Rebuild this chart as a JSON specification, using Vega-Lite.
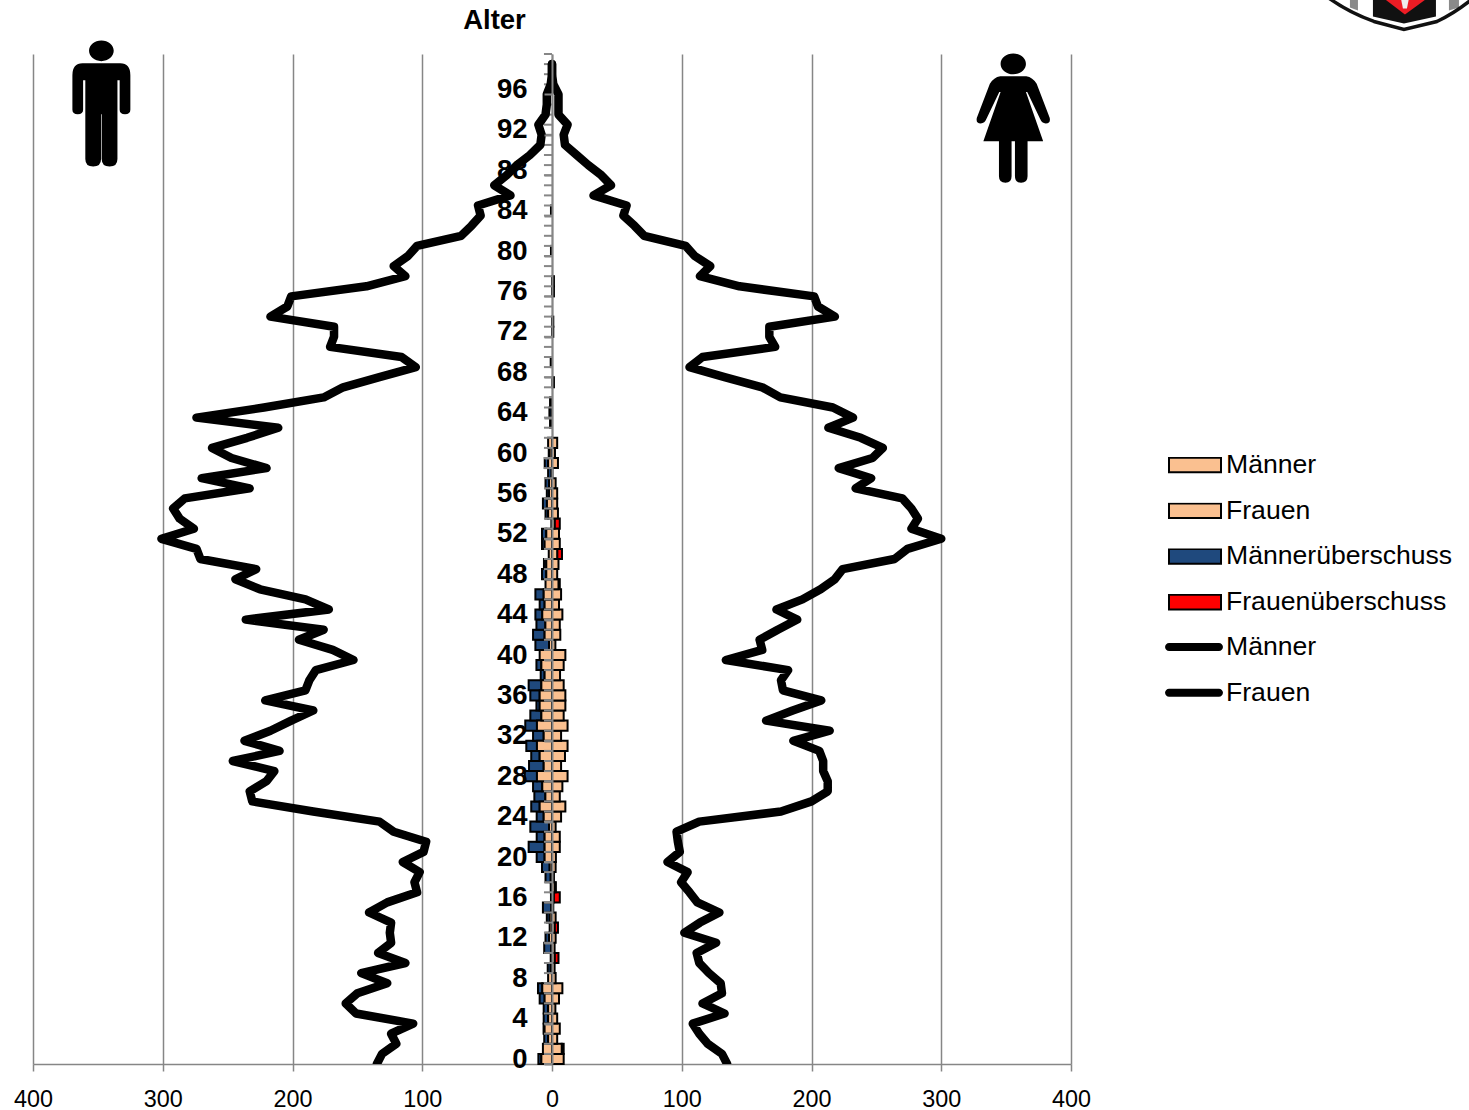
{"$schema":"https://vega.github.io/schema/vega-lite/v6.json","width":1038,"height":1010,"autosize":{"type":"none"},"padding":{"left":33,"top":54,"right":398,"bottom":46},"background":"white","config":{"view":{"stroke":null},"font":"Liberation Sans"},
"datasets":{
"ticks":[{"age":0},{"age":1},{"age":2},{"age":3},{"age":4},{"age":5},{"age":6},{"age":7},{"age":8},{"age":9},{"age":10},{"age":11},{"age":12},{"age":13},{"age":14},{"age":15},{"age":16},{"age":17},{"age":18},{"age":19},{"age":20},{"age":21},{"age":22},{"age":23},{"age":24},{"age":25},{"age":26},{"age":27},{"age":28},{"age":29},{"age":30},{"age":31},{"age":32},{"age":33},{"age":34},{"age":35},{"age":36},{"age":37},{"age":38},{"age":39},{"age":40},{"age":41},{"age":42},{"age":43},{"age":44},{"age":45},{"age":46},{"age":47},{"age":48},{"age":49},{"age":50},{"age":51},{"age":52},{"age":53},{"age":54},{"age":55},{"age":56},{"age":57},{"age":58},{"age":59},{"age":60},{"age":61},{"age":62},{"age":63},{"age":64},{"age":65},{"age":66},{"age":67},{"age":68},{"age":69},{"age":70},{"age":71},{"age":72},{"age":73},{"age":74},{"age":75},{"age":76},{"age":77},{"age":78},{"age":79},{"age":80},{"age":81},{"age":82},{"age":83},{"age":84},{"age":85},{"age":86},{"age":87},{"age":88},{"age":89},{"age":90},{"age":91},{"age":92},{"age":93},{"age":94},{"age":95},{"age":96},{"age":97},{"age":98},{"age":99},{"age":100}],
"bars":[
{"serie":"Männerüberschuss","age":0,"top":1,"low":-10.5,"high":-8.2},{"serie":"Frauenüberschuss","age":1,"top":2,"low":7.5,"high":9},{"serie":"Männerüberschuss","age":2,"top":3,"low":-6,"high":-3},{"serie":"Männerüberschuss","age":3,"top":4,"low":-6.5,"high":-5.7},{"serie":"Männerüberschuss","age":4,"top":5,"low":-6.4,"high":-3},{"serie":"Männerüberschuss","age":5,"top":6,"low":-6.4,"high":-3},{"serie":"Männerüberschuss","age":6,"top":7,"low":-9.5,"high":-5.7},{"serie":"Männerüberschuss","age":7,"top":8,"low":-10.8,"high":-7.5},{"serie":"Männerüberschuss","age":9,"top":10,"low":-3.3,"high":-1},{"serie":"Frauenüberschuss","age":10,"top":11,"low":2,"high":5},{"serie":"Männerüberschuss","age":11,"top":12,"low":-6,"high":-0.5},{"serie":"Männerüberschuss","age":12,"top":13,"low":-5,"high":-2.3},{"serie":"Frauenüberschuss","age":13,"top":14,"low":2,"high":4.6},{"serie":"Männerüberschuss","age":14,"top":15,"low":-4,"high":-1.8},{"serie":"Männerüberschuss","age":15,"top":16,"low":-7,"high":-0.5},{"serie":"Frauenüberschuss","age":16,"top":17,"low":1.3,"high":6},{"serie":"Frauenüberschuss","age":17,"top":18,"low":2,"high":3},{"serie":"Männerüberschuss","age":18,"top":19,"low":-5,"high":-1},{"serie":"Männerüberschuss","age":19,"top":20,"low":-7.7,"high":-1.8},{"serie":"Männerüberschuss","age":20,"top":21,"low":-11.8,"high":-5.7},{"serie":"Männerüberschuss","age":21,"top":22,"low":-18,"high":-5.7},{"serie":"Männerüberschuss","age":22,"top":23,"low":-11.8,"high":-5.7},{"serie":"Männerüberschuss","age":23,"top":24,"low":-16.7,"high":-2.3},{"serie":"Männerüberschuss","age":24,"top":25,"low":-11.8,"high":-6.4},{"serie":"Männerüberschuss","age":25,"top":26,"low":-16,"high":-9.5},{"serie":"Männerüberschuss","age":26,"top":27,"low":-13.6,"high":-5.1},{"serie":"Männerüberschuss","age":27,"top":28,"low":-14.6,"high":-7.5},{"serie":"Männerüberschuss","age":28,"top":29,"low":-21,"high":-11.6},{"serie":"Männerüberschuss","age":29,"top":30,"low":-17.7,"high":-6.4},{"serie":"Männerüberschuss","age":30,"top":31,"low":-16,"high":-9.5},{"serie":"Männerüberschuss","age":31,"top":32,"low":-19.8,"high":-11.6},{"serie":"Männerüberschuss","age":32,"top":33,"low":-14.6,"high":-6.4},{"serie":"Männerüberschuss","age":33,"top":34,"low":-20.6,"high":-11.6},{"serie":"Männerüberschuss","age":34,"top":35,"low":-16.7,"high":-8.2},{"serie":"Männerüberschuss","age":35,"top":36,"low":-12,"high":-9.5},{"serie":"Männerüberschuss","age":36,"top":37,"low":-16.7,"high":-9.5},{"serie":"Männerüberschuss","age":37,"top":38,"low":-18,"high":-8.2},{"serie":"Männerüberschuss","age":38,"top":39,"low":-8.7,"high":-5.7},{"serie":"Männerüberschuss","age":39,"top":40,"low":-12,"high":-8.2},{"serie":"Männerüberschuss","age":41,"top":42,"low":-12.8,"high":-2.3},{"serie":"Männerüberschuss","age":42,"top":43,"low":-14.6,"high":-5.7},{"serie":"Männerüberschuss","age":43,"top":44,"low":-12,"high":-5.1},{"serie":"Männerüberschuss","age":44,"top":45,"low":-12.8,"high":-7.5},{"serie":"Männerüberschuss","age":45,"top":46,"low":-9.5,"high":-5.7},{"serie":"Männerüberschuss","age":46,"top":47,"low":-12.8,"high":-6.4},{"serie":"Frauenüberschuss","age":47,"top":48,"low":5,"high":6},{"serie":"Männerüberschuss","age":48,"top":49,"low":-7.7,"high":-4.4},{"serie":"Männerüberschuss","age":49,"top":50,"low":-6.2,"high":-4.4},{"serie":"Frauenüberschuss","age":50,"top":51,"low":4,"high":7.7},{"serie":"Männerüberschuss","age":51,"top":52,"low":-7.7,"high":-5.7},{"serie":"Männerüberschuss","age":52,"top":53,"low":-7.7,"high":-4.4},{"serie":"Frauenüberschuss","age":53,"top":54,"low":2,"high":6},{"serie":"Männerüberschuss","age":54,"top":55,"low":-5,"high":-3},{"serie":"Männerüberschuss","age":55,"top":56,"low":-7,"high":-3.9},{"serie":"Männerüberschuss","age":56,"top":57,"low":-4,"high":-2.3},{"serie":"Männerüberschuss","age":57,"top":58,"low":-5,"high":-2.3},{"serie":"Männerüberschuss","age":58,"top":59,"low":-3,"high":-0.3},{"serie":"Männerüberschuss","age":59,"top":60,"low":-5.6,"high":-3},{"serie":"Männerüberschuss","age":60,"top":61,"low":-2.5,"high":-1.8},{"serie":"Männerüberschuss","age":63,"top":64,"low":-1.5,"high":-0.5},{"serie":"Männerüberschuss","age":64,"top":65,"low":-2,"high":-0.3},{"serie":"Männerüberschuss","age":65,"top":66,"low":-1.5,"high":-0.3},{"serie":"Frauenüberschuss","age":67,"top":68,"low":0.3,"high":1.5},{"serie":"Männerüberschuss","age":69,"top":70,"low":-1,"high":0},{"serie":"Frauenüberschuss","age":72,"top":73,"low":0,"high":1},{"serie":"Frauenüberschuss","age":73,"top":74,"low":0,"high":1},{"serie":"Frauenüberschuss","age":76,"top":77,"low":0,"high":1.5},{"serie":"Frauenüberschuss","age":77,"top":78,"low":0,"high":1.5},{"serie":"Männerüberschuss","age":80,"top":81,"low":-0.8,"high":0},{"serie":"Männerüberschuss","age":84,"top":85,"low":-0.8,"high":0},
{"serie":"Männer","age":0,"top":1,"low":-8.2,"high":0},{"serie":"Frauen","age":0,"top":1,"low":0,"high":9},{"serie":"Männer","age":1,"top":2,"low":-7,"high":0},{"serie":"Frauen","age":1,"top":2,"low":0,"high":7.5},{"serie":"Männer","age":2,"top":3,"low":-3,"high":0},{"serie":"Frauen","age":2,"top":3,"low":0,"high":4},{"serie":"Männer","age":3,"top":4,"low":-5.7,"high":0},{"serie":"Frauen","age":3,"top":4,"low":0,"high":6},{"serie":"Männer","age":4,"top":5,"low":-3,"high":0},{"serie":"Frauen","age":4,"top":5,"low":0,"high":4},{"serie":"Männer","age":5,"top":6,"low":-3,"high":0},{"serie":"Frauen","age":5,"top":6,"low":0,"high":2.6},{"serie":"Männer","age":6,"top":7,"low":-5.7,"high":0},{"serie":"Frauen","age":6,"top":7,"low":0,"high":5.4},{"serie":"Männer","age":7,"top":8,"low":-7.5,"high":0},{"serie":"Frauen","age":7,"top":8,"low":0,"high":8},{"serie":"Männer","age":8,"top":9,"low":-3,"high":0},{"serie":"Frauen","age":8,"top":9,"low":0,"high":2.8},{"serie":"Männer","age":9,"top":10,"low":-1,"high":0},{"serie":"Frauen","age":9,"top":10,"low":0,"high":2},{"serie":"Männer","age":10,"top":11,"low":-1,"high":0},{"serie":"Frauen","age":10,"top":11,"low":0,"high":2},{"serie":"Männer","age":11,"top":12,"low":-0.5,"high":0},{"serie":"Frauen","age":11,"top":12,"low":0,"high":2},{"serie":"Männer","age":12,"top":13,"low":-2.3,"high":0},{"serie":"Frauen","age":12,"top":13,"low":0,"high":2.8},{"serie":"Männer","age":13,"top":14,"low":-1.8,"high":0},{"serie":"Frauen","age":13,"top":14,"low":0,"high":2},{"serie":"Männer","age":14,"top":15,"low":-1.8,"high":0},{"serie":"Frauen","age":14,"top":15,"low":0,"high":2.8},{"serie":"Männer","age":15,"top":16,"low":-0.5,"high":0},{"serie":"Frauen","age":15,"top":16,"low":0,"high":1},{"serie":"Männer","age":16,"top":17,"low":-0.8,"high":0},{"serie":"Frauen","age":16,"top":17,"low":0,"high":1.3},{"serie":"Männer","age":17,"top":18,"low":-1,"high":0},{"serie":"Frauen","age":17,"top":18,"low":0,"high":2},{"serie":"Männer","age":18,"top":19,"low":-1,"high":0},{"serie":"Frauen","age":18,"top":19,"low":0,"high":1.5},{"serie":"Männer","age":19,"top":20,"low":-1.8,"high":0},{"serie":"Frauen","age":19,"top":20,"low":0,"high":2.8},{"serie":"Männer","age":20,"top":21,"low":-5.7,"high":0},{"serie":"Frauen","age":20,"top":21,"low":0,"high":3},{"serie":"Männer","age":21,"top":22,"low":-5.7,"high":0},{"serie":"Frauen","age":21,"top":22,"low":0,"high":6},{"serie":"Männer","age":22,"top":23,"low":-5.7,"high":0},{"serie":"Frauen","age":22,"top":23,"low":0,"high":6},{"serie":"Männer","age":23,"top":24,"low":-2.3,"high":0},{"serie":"Frauen","age":23,"top":24,"low":0,"high":2.8},{"serie":"Männer","age":24,"top":25,"low":-6.4,"high":0},{"serie":"Frauen","age":24,"top":25,"low":0,"high":7},{"serie":"Männer","age":25,"top":26,"low":-9.5,"high":0},{"serie":"Frauen","age":25,"top":26,"low":0,"high":10.3},{"serie":"Männer","age":26,"top":27,"low":-5.1,"high":0},{"serie":"Frauen","age":26,"top":27,"low":0,"high":6},{"serie":"Männer","age":27,"top":28,"low":-7.5,"high":0},{"serie":"Frauen","age":27,"top":28,"low":0,"high":8},{"serie":"Männer","age":28,"top":29,"low":-11.6,"high":0},{"serie":"Frauen","age":28,"top":29,"low":0,"high":12},{"serie":"Männer","age":29,"top":30,"low":-6.4,"high":0},{"serie":"Frauen","age":29,"top":30,"low":0,"high":7},{"serie":"Männer","age":30,"top":31,"low":-9.5,"high":0},{"serie":"Frauen","age":30,"top":31,"low":0,"high":10},{"serie":"Männer","age":31,"top":32,"low":-11.6,"high":0},{"serie":"Frauen","age":31,"top":32,"low":0,"high":12},{"serie":"Männer","age":32,"top":33,"low":-6.4,"high":0},{"serie":"Frauen","age":32,"top":33,"low":0,"high":7},{"serie":"Männer","age":33,"top":34,"low":-11.6,"high":0},{"serie":"Frauen","age":33,"top":34,"low":0,"high":12},{"serie":"Männer","age":34,"top":35,"low":-8.2,"high":0},{"serie":"Frauen","age":34,"top":35,"low":0,"high":9},{"serie":"Männer","age":35,"top":36,"low":-9.5,"high":0},{"serie":"Frauen","age":35,"top":36,"low":0,"high":10.3},{"serie":"Männer","age":36,"top":37,"low":-9.5,"high":0},{"serie":"Frauen","age":36,"top":37,"low":0,"high":10.3},{"serie":"Männer","age":37,"top":38,"low":-8.2,"high":0},{"serie":"Frauen","age":37,"top":38,"low":0,"high":9},{"serie":"Männer","age":38,"top":39,"low":-5.7,"high":0},{"serie":"Frauen","age":38,"top":39,"low":0,"high":6.2},{"serie":"Männer","age":39,"top":40,"low":-8.2,"high":0},{"serie":"Frauen","age":39,"top":40,"low":0,"high":9},{"serie":"Männer","age":40,"top":41,"low":-9.5,"high":0},{"serie":"Frauen","age":40,"top":41,"low":0,"high":10.3},{"serie":"Männer","age":41,"top":42,"low":-2.3,"high":0},{"serie":"Frauen","age":41,"top":42,"low":0,"high":2.6},{"serie":"Männer","age":42,"top":43,"low":-5.7,"high":0},{"serie":"Frauen","age":42,"top":43,"low":0,"high":6.4},{"serie":"Männer","age":43,"top":44,"low":-5.1,"high":0},{"serie":"Frauen","age":43,"top":44,"low":0,"high":6},{"serie":"Männer","age":44,"top":45,"low":-7.5,"high":0},{"serie":"Frauen","age":44,"top":45,"low":0,"high":8},{"serie":"Männer","age":45,"top":46,"low":-5.7,"high":0},{"serie":"Frauen","age":45,"top":46,"low":0,"high":5.4},{"serie":"Männer","age":46,"top":47,"low":-6.4,"high":0},{"serie":"Frauen","age":46,"top":47,"low":0,"high":7},{"serie":"Männer","age":47,"top":48,"low":-5,"high":0},{"serie":"Frauen","age":47,"top":48,"low":0,"high":5},{"serie":"Männer","age":48,"top":49,"low":-4.4,"high":0},{"serie":"Frauen","age":48,"top":49,"low":0,"high":4},{"serie":"Männer","age":49,"top":50,"low":-4.4,"high":0},{"serie":"Frauen","age":49,"top":50,"low":0,"high":5},{"serie":"Männer","age":50,"top":51,"low":-2.5,"high":0},{"serie":"Frauen","age":50,"top":51,"low":0,"high":4},{"serie":"Männer","age":51,"top":52,"low":-5.7,"high":0},{"serie":"Frauen","age":51,"top":52,"low":0,"high":6},{"serie":"Männer","age":52,"top":53,"low":-4.4,"high":0},{"serie":"Frauen","age":52,"top":53,"low":0,"high":5.4},{"serie":"Männer","age":53,"top":54,"low":-0.5,"high":0},{"serie":"Frauen","age":53,"top":54,"low":0,"high":2},{"serie":"Männer","age":54,"top":55,"low":-3,"high":0},{"serie":"Frauen","age":54,"top":55,"low":0,"high":4.6},{"serie":"Männer","age":55,"top":56,"low":-3.9,"high":0},{"serie":"Frauen","age":55,"top":56,"low":0,"high":4},{"serie":"Männer","age":56,"top":57,"low":-2.3,"high":0},{"serie":"Frauen","age":56,"top":57,"low":0,"high":4},{"serie":"Männer","age":57,"top":58,"low":-2.3,"high":0},{"serie":"Frauen","age":57,"top":58,"low":0,"high":2.8},{"serie":"Männer","age":58,"top":59,"low":-0.3,"high":0},{"serie":"Frauen","age":58,"top":59,"low":0,"high":0.3},{"serie":"Männer","age":59,"top":60,"low":-3,"high":0},{"serie":"Frauen","age":59,"top":60,"low":0,"high":4.6},{"serie":"Männer","age":60,"top":61,"low":-1.8,"high":0},{"serie":"Frauen","age":60,"top":61,"low":0,"high":2.3},{"serie":"Männer","age":61,"top":62,"low":-3,"high":0},{"serie":"Frauen","age":61,"top":62,"low":0,"high":4}
],
"lines":[
{"serie":"Männer","age":0,"value":-135},{"serie":"Männer","age":1,"value":-131},{"serie":"Männer","age":2,"value":-120},{"serie":"Männer","age":3,"value":-124},{"serie":"Männer","age":4,"value":-107},{"serie":"Männer","age":5,"value":-151},{"serie":"Männer","age":6,"value":-159},{"serie":"Männer","age":7,"value":-150},{"serie":"Männer","age":8,"value":-127},{"serie":"Männer","age":9,"value":-147},{"serie":"Männer","age":10,"value":-113},{"serie":"Männer","age":11,"value":-134},{"serie":"Männer","age":12,"value":-124},{"serie":"Männer","age":13,"value":-125},{"serie":"Männer","age":14,"value":-124},{"serie":"Männer","age":15,"value":-141},{"serie":"Männer","age":16,"value":-127},{"serie":"Männer","age":17,"value":-104},{"serie":"Männer","age":18,"value":-106},{"serie":"Männer","age":19,"value":-102},{"serie":"Männer","age":20,"value":-115},{"serie":"Männer","age":21,"value":-99},{"serie":"Männer","age":22,"value":-97},{"serie":"Männer","age":23,"value":-122},{"serie":"Männer","age":24,"value":-133},{"serie":"Männer","age":25,"value":-184},{"serie":"Männer","age":26,"value":-231},{"serie":"Männer","age":27,"value":-233},{"serie":"Männer","age":28,"value":-220},{"serie":"Männer","age":29,"value":-214},{"serie":"Männer","age":30,"value":-246},{"serie":"Männer","age":31,"value":-210},{"serie":"Männer","age":32,"value":-237},{"serie":"Männer","age":33,"value":-217},{"serie":"Männer","age":34,"value":-201},{"serie":"Männer","age":35,"value":-184},{"serie":"Männer","age":36,"value":-221},{"serie":"Männer","age":37,"value":-190},{"serie":"Männer","age":38,"value":-187},{"serie":"Männer","age":39,"value":-182},{"serie":"Männer","age":40,"value":-153},{"serie":"Männer","age":41,"value":-169},{"serie":"Männer","age":42,"value":-195},{"serie":"Männer","age":43,"value":-176},{"serie":"Männer","age":44,"value":-236},{"serie":"Männer","age":45,"value":-172},{"serie":"Männer","age":46,"value":-190},{"serie":"Männer","age":47,"value":-225},{"serie":"Männer","age":48,"value":-244},{"serie":"Männer","age":49,"value":-228},{"serie":"Männer","age":50,"value":-271},{"serie":"Männer","age":51,"value":-274},{"serie":"Männer","age":52,"value":-301},{"serie":"Männer","age":53,"value":-276},{"serie":"Männer","age":54,"value":-287},{"serie":"Männer","age":55,"value":-292},{"serie":"Männer","age":56,"value":-283},{"serie":"Männer","age":57,"value":-233},{"serie":"Männer","age":58,"value":-270},{"serie":"Männer","age":59,"value":-220},{"serie":"Männer","age":60,"value":-247},{"serie":"Männer","age":61,"value":-262},{"serie":"Männer","age":62,"value":-235},{"serie":"Männer","age":63,"value":-211},{"serie":"Männer","age":64,"value":-274},{"serie":"Männer","age":65,"value":-222},{"serie":"Männer","age":66,"value":-176},{"serie":"Männer","age":67,"value":-161},{"serie":"Männer","age":68,"value":-133},{"serie":"Männer","age":69,"value":-105},{"serie":"Männer","age":70,"value":-116},{"serie":"Männer","age":71,"value":-171},{"serie":"Männer","age":72,"value":-168},{"serie":"Männer","age":73,"value":-168},{"serie":"Männer","age":74,"value":-217},{"serie":"Männer","age":75,"value":-204},{"serie":"Männer","age":76,"value":-201},{"serie":"Männer","age":77,"value":-143},{"serie":"Männer","age":78,"value":-113},{"serie":"Männer","age":79,"value":-122},{"serie":"Männer","age":80,"value":-111},{"serie":"Männer","age":81,"value":-104},{"serie":"Männer","age":82,"value":-70},{"serie":"Männer","age":83,"value":-62},{"serie":"Männer","age":84,"value":-55},{"serie":"Männer","age":85,"value":-57},{"serie":"Männer","age":86,"value":-32},{"serie":"Männer","age":87,"value":-44.5},{"serie":"Männer","age":88,"value":-35},{"serie":"Männer","age":89,"value":-27},{"serie":"Männer","age":90,"value":-17},{"serie":"Männer","age":91,"value":-9},{"serie":"Männer","age":92,"value":-8},{"serie":"Männer","age":93,"value":-10.5},{"serie":"Männer","age":94,"value":-5},{"serie":"Männer","age":95,"value":-4},{"serie":"Männer","age":96,"value":-4},{"serie":"Männer","age":97,"value":-1},{"serie":"Männer","age":98,"value":0},{"serie":"Männer","age":99,"value":0},
{"serie":"Frauen","age":0,"value":135},{"serie":"Frauen","age":1,"value":131},{"serie":"Frauen","age":2,"value":120},{"serie":"Frauen","age":3,"value":113.5},{"serie":"Frauen","age":4,"value":108.5},{"serie":"Frauen","age":5,"value":133},{"serie":"Frauen","age":6,"value":116},{"serie":"Frauen","age":7,"value":131},{"serie":"Frauen","age":8,"value":130},{"serie":"Frauen","age":9,"value":121},{"serie":"Frauen","age":10,"value":113.5},{"serie":"Frauen","age":11,"value":111.5},{"serie":"Frauen","age":12,"value":126.5},{"serie":"Frauen","age":13,"value":102},{"serie":"Frauen","age":14,"value":114},{"serie":"Frauen","age":15,"value":129},{"serie":"Frauen","age":16,"value":112},{"serie":"Frauen","age":17,"value":106},{"serie":"Frauen","age":18,"value":99.5},{"serie":"Frauen","age":19,"value":104.5},{"serie":"Frauen","age":20,"value":89},{"serie":"Frauen","age":21,"value":98.5},{"serie":"Frauen","age":22,"value":97},{"serie":"Frauen","age":23,"value":96},{"serie":"Frauen","age":24,"value":113.5},{"serie":"Frauen","age":25,"value":176.5},{"serie":"Frauen","age":26,"value":200},{"serie":"Frauen","age":27,"value":212.5},{"serie":"Frauen","age":28,"value":212.5},{"serie":"Frauen","age":29,"value":209},{"serie":"Frauen","age":30,"value":209},{"serie":"Frauen","age":31,"value":206},{"serie":"Frauen","age":32,"value":186},{"serie":"Frauen","age":33,"value":214},{"serie":"Frauen","age":34,"value":165},{"serie":"Frauen","age":35,"value":185.5},{"serie":"Frauen","age":36,"value":207.5},{"serie":"Frauen","age":37,"value":178},{"serie":"Frauen","age":38,"value":176.5},{"serie":"Frauen","age":39,"value":182},{"serie":"Frauen","age":40,"value":134},{"serie":"Frauen","age":41,"value":162},{"serie":"Frauen","age":42,"value":160},{"serie":"Frauen","age":43,"value":174},{"serie":"Frauen","age":44,"value":189},{"serie":"Frauen","age":45,"value":173},{"serie":"Frauen","age":46,"value":193},{"serie":"Frauen","age":47,"value":207},{"serie":"Frauen","age":48,"value":218},{"serie":"Frauen","age":49,"value":224},{"serie":"Frauen","age":50,"value":264},{"serie":"Frauen","age":51,"value":274},{"serie":"Frauen","age":52,"value":300},{"serie":"Frauen","age":53,"value":277},{"serie":"Frauen","age":54,"value":282},{"serie":"Frauen","age":55,"value":277},{"serie":"Frauen","age":56,"value":270},{"serie":"Frauen","age":57,"value":234},{"serie":"Frauen","age":58,"value":246},{"serie":"Frauen","age":59,"value":221},{"serie":"Frauen","age":60,"value":247},{"serie":"Frauen","age":61,"value":255},{"serie":"Frauen","age":62,"value":238},{"serie":"Frauen","age":63,"value":213},{"serie":"Frauen","age":64,"value":232},{"serie":"Frauen","age":65,"value":216.5},{"serie":"Frauen","age":66,"value":176},{"serie":"Frauen","age":67,"value":162},{"serie":"Frauen","age":68,"value":133},{"serie":"Frauen","age":69,"value":106},{"serie":"Frauen","age":70,"value":116},{"serie":"Frauen","age":71,"value":172},{"serie":"Frauen","age":72,"value":167.5},{"serie":"Frauen","age":73,"value":167.5},{"serie":"Frauen","age":74,"value":218},{"serie":"Frauen","age":75,"value":205},{"serie":"Frauen","age":76,"value":202},{"serie":"Frauen","age":77,"value":144.5},{"serie":"Frauen","age":78,"value":114},{"serie":"Frauen","age":79,"value":122},{"serie":"Frauen","age":80,"value":110},{"serie":"Frauen","age":81,"value":103},{"serie":"Frauen","age":82,"value":71},{"serie":"Frauen","age":83,"value":63.5},{"serie":"Frauen","age":84,"value":55},{"serie":"Frauen","age":85,"value":57.5},{"serie":"Frauen","age":86,"value":32},{"serie":"Frauen","age":87,"value":45.5},{"serie":"Frauen","age":88,"value":38},{"serie":"Frauen","age":89,"value":28},{"serie":"Frauen","age":90,"value":19},{"serie":"Frauen","age":91,"value":10},{"serie":"Frauen","age":92,"value":9},{"serie":"Frauen","age":93,"value":12},{"serie":"Frauen","age":94,"value":5},{"serie":"Frauen","age":95,"value":5},{"serie":"Frauen","age":96,"value":5},{"serie":"Frauen","age":97,"value":1},{"serie":"Frauen","age":98,"value":0},{"serie":"Frauen","age":99,"value":0}
]},
"layer":[
{"data":{"name":"bars"},"mark":{"type":"rect","stroke":"#000000","strokeWidth":2,"opacity":1},"encoding":{
"x":{"field":"low","type":"quantitative","scale":{"domain":[-400,400],"nice":false,"zero":false},"axis":{"title":null,"values":[-400,-300,-200,-100,0,100,200,300,400],"labelExpr":"abs(datum.value)","labelFont":"Liberation Sans","labelFontSize":23.4,"labelColor":"#000000","labelPadding":17,"tickSize":7,"tickColor":"#868686","tickWidth":1.5,"domainColor":"#868686","domainWidth":1.5,"grid":true,"gridColor":"#868686","gridWidth":1.5,"labelFlush":false,"labelOverlap":false}},
"x2":{"field":"high"},
"y":{"field":"age","type":"quantitative","scale":{"domain":[0,100],"nice":false,"zero":false},"axis":{"title":"Alter","titleFont":"Liberation Sans","titleFontSize":27.5,"titleFontWeight":"bold","titleColor":"#000000","titleAngle":0,"titleAlign":"center","titleBaseline":"middle","titleX":-58,"titleY":-34,"offset":-519,"zindex":1,"grid":false,"values":[0,4,8,12,16,20,24,28,32,36,40,44,48,52,56,60,64,68,72,76,80,84,88,92,96],"labelFont":"Liberation Sans","labelFontSize":27.5,"labelFontWeight":"bold","labelColor":"#000000","labelPadding":17,"labelOffset":-5,"labelOverlap":false,"labelFlush":false,"tickSize":8,"tickColor":"#868686","tickWidth":2,"domainColor":"#868686","domainWidth":2}},
"y2":{"field":"top"},
"fill":{"field":"serie","type":"nominal","scale":{"domain":["Männer","Frauen","Männerüberschuss","Frauenüberschuss"],"range":["#FAC090","#FAC090","#1F497D","#FF0000"]},"legend":{"title":null,"orient":"none","legendX":1135,"legendY":403,"symbolType":"M-1,-0.28 L1,-0.28 L1,0.28 L-1,0.28 Z","symbolSize":2704,"symbolStrokeColor":"#000000","symbolStrokeWidth":2,"symbolOpacity":1,"clipHeight":16,"rowPadding":18.7,"labelFont":"Liberation Sans","labelFontSize":26.6,"labelColor":"#000000","labelOffset":4,"labelLimit":400}}}},
{"data":{"name":"ticks"},"mark":{"type":"rule","color":"#868686","strokeWidth":2},"encoding":{"x":{"datum":-6.2,"type":"quantitative"},"x2":{"datum":0},"y":{"field":"age","type":"quantitative"}}},
{"data":{"name":"lines"},"mark":{"type":"line","strokeWidth":8.5,"strokeJoin":"round","strokeCap":"round","clip":true},"encoding":{"x":{"field":"value","type":"quantitative"},"y":{"field":"age","type":"quantitative"},"order":{"field":"age"},"stroke":{"field":"serie","type":"nominal","scale":{"domain":["Männer","Frauen"],"range":["#000000","#000000"]},"legend":{"title":null,"orient":"none","legendX":1132,"legendY":585,"symbolType":"M-0.86,-0.138 L0.86,-0.138 A0.138,0.138 0 0 1 0.86,0.138 L-0.86,0.138 A0.138,0.138 0 0 1 -0.86,-0.138 Z","symbolSize":3364,"symbolFillColor":"#000000","symbolStrokeColor":"#000000","symbolStrokeWidth":0,"symbolOpacity":1,"clipHeight":16,"rowPadding":18.7,"labelFont":"Liberation Sans","labelFontSize":26.6,"labelColor":"#000000","labelOffset":3,"labelLimit":400}}}},
{"data":{"values":[{"x":-347.3,"y":95.1}]},"mark":{"type":"point","filled":true,"opacity":1,"color":"#000000","size":15876,"shape":"M-0.3,-0.64 L0.3,-0.64 Q0.46,-0.64 0.46,-0.45 L0.46,0.1 Q0.46,0.17 0.375,0.17 Q0.29,0.17 0.29,0.1 L0.29,-0.37 L0.255,-0.37 L0.255,0.88 Q0.255,1 0.13,1 Q0.005,1 0.005,0.88 L0.005,0.17 L-0.005,0.17 L-0.005,0.88 Q-0.005,1 -0.13,1 Q-0.255,1 -0.255,0.88 L-0.255,-0.37 L-0.29,-0.37 L-0.29,0.1 Q-0.29,0.17 -0.375,0.17 Q-0.46,0.17 -0.46,0.1 L-0.46,-0.45 Q-0.46,-0.64 -0.3,-0.64 Z M-0.196,-0.836 A0.196,0.164 0 1 0 0.196,-0.836 A0.196,0.164 0 1 0 -0.196,-0.836 Z"},"encoding":{"x":{"field":"x","type":"quantitative"},"y":{"field":"y","type":"quantitative"}}},
{"data":{"values":[{"x":355.5,"y":93.7}]},"mark":{"type":"point","filled":true,"opacity":1,"color":"#000000","size":16900,"shape":"M-0.2,-0.636 L0.2,-0.636 Q0.3,-0.62 0.36,-0.52 L0.56,0 Q0.58,0.09 0.5,0.09 Q0.44,0.09 0.41,0.015 L0.215,-0.395 L0.195,-0.395 L0.46,0.364 L0.22,0.364 L0.22,0.9 Q0.22,1 0.12,1 Q0.026,1 0.026,0.9 L0.026,0.364 L-0.026,0.364 L-0.026,0.9 Q-0.026,1 -0.12,1 Q-0.22,1 -0.22,0.9 L-0.22,0.364 L-0.46,0.364 L-0.195,-0.395 L-0.215,-0.395 L-0.41,0.015 Q-0.44,0.09 -0.5,0.09 Q-0.58,0.09 -0.56,0 L-0.36,-0.52 Q-0.3,-0.62 -0.2,-0.636 Z M-0.195,-0.826 A0.195,0.159 0 1 0 0.195,-0.826 A0.195,0.159 0 1 0 -0.195,-0.826 Z"},"encoding":{"x":{"field":"x","type":"quantitative"},"y":{"field":"y","type":"quantitative"}}},
{"data":{"values":[{"x":656.6,"y":105.3}]},"mark":{"type":"point","filled":true,"opacity":1,"color":"#8a8a8a","size":40000,"shape":"M-0.54,-0.1 L-0.46,-0.1 L-0.46,0.1 L-0.54,0.07 Z M0.45,-0.1 L0.55,-0.1 L0.55,0.07 L0.45,0.1 Z"},"encoding":{"x":{"field":"x","type":"quantitative"},"y":{"field":"y","type":"quantitative"}}},
{"data":{"values":[{"x":656.6,"y":105.3}]},"mark":{"type":"point","filled":true,"opacity":1,"color":"#111111","size":40000,"shape":"M-0.31,-0.1 L0.32,-0.1 L0.32,0.16 L0,0.23 L-0.31,0.16 Z"},"encoding":{"x":{"field":"x","type":"quantitative"},"y":{"field":"y","type":"quantitative"}}},
{"data":{"values":[{"x":656.6,"y":105.3}]},"mark":{"type":"point","filled":true,"opacity":1,"color":"#ED1C24","size":40000,"shape":"M-0.2,-0.02 L0.23,-0.02 L0.01,0.14 Z"},"encoding":{"x":{"field":"x","type":"quantitative"},"y":{"field":"y","type":"quantitative"}}},
{"data":{"values":[{"x":656.6,"y":105.3}]},"mark":{"type":"point","filled":true,"opacity":1,"color":"#eeeeee","size":40000,"shape":"M-0.03,-0.02 L0.05,-0.02 L0.03,0.08 L-0.01,0.08 Z"},"encoding":{"x":{"field":"x","type":"quantitative"},"y":{"field":"y","type":"quantitative"}}},
{"data":{"values":[{"x":656.6,"y":105.3}]},"mark":{"type":"point","filled":false,"opacity":1,"color":"#111111","strokeWidth":3.5,"size":40000,"shape":"M-0.76,-0.03 Q-0.55,0.12 -0.3,0.21 L0,0.29 L0.33,0.21 Q0.52,0.12 0.7,-0.03"},"encoding":{"x":{"field":"x","type":"quantitative"},"y":{"field":"y","type":"quantitative"}}}
]}
